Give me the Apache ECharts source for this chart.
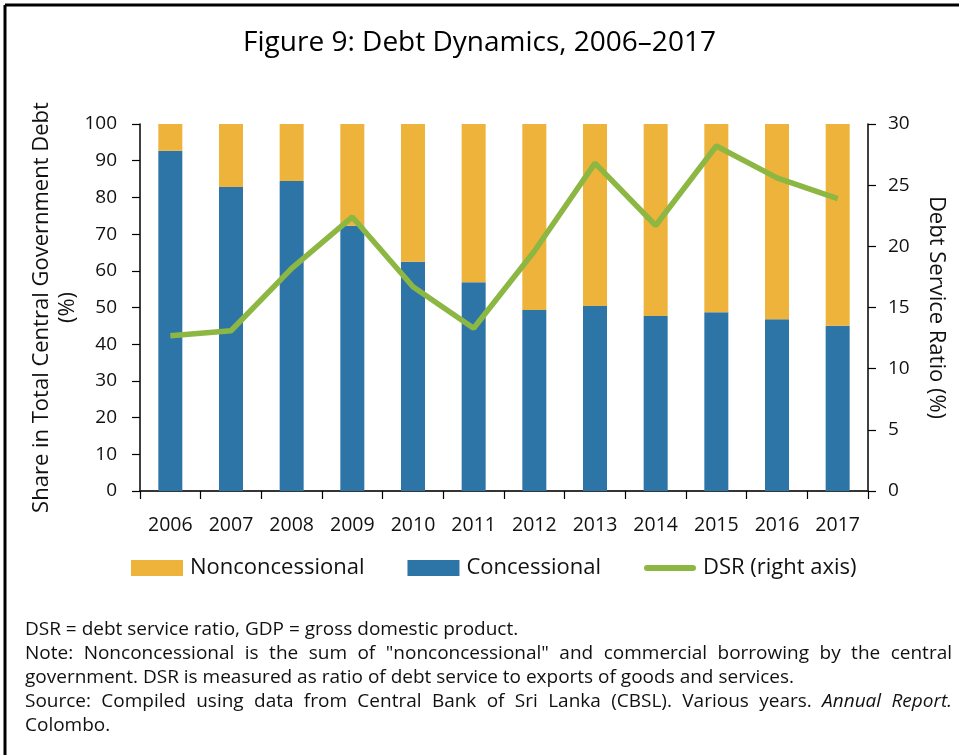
<!DOCTYPE html>
<html>
<head>
<meta charset="utf-8">
<script src="https://cdn.jsdelivr.net/npm/echarts@6/dist/echarts.min.js"></script>
<style>html,body{margin:0;padding:0;background:#fff}#c{width:959px;height:755px}</style>
</head>
<body>
<div id="c"></div>
<script>
var years = ['2006','2007','2008','2009','2010','2011','2012','2013','2014','2015','2016','2017'];
var concessional = [92.7, 82.8, 84.5, 72.3, 62.5, 56.9, 49.3, 50.4, 47.7, 48.7, 46.8, 45.0];
var nonconcessional = [7.3, 17.2, 15.5, 27.7, 37.5, 43.1, 50.7, 49.6, 52.3, 51.3, 53.2, 55.0];
var dsr = [12.7, 13.1, 18.2, 22.4, 16.7, 13.3, 19.6, 26.8, 21.7, 28.2, 25.6, 23.9];
var leftTicks = [0, 100, 10];
var rightTicks = [0, 30, 5];

var FONT = '"Open Sans", Lato, sans-serif';
var chart = echarts.init(document.getElementById('c'), null, {renderer: 'canvas'});

var noteFont = 19;
var ctx = document.createElement('canvas').getContext('2d');
function measure(t, italic) {
  ctx.font = (italic ? 'italic ' : '') + noteFont + 'px ' + FONT;
  return ctx.measureText(t).width;
}
var graphics = [
  {type: 'line', shape: {x1: 5, y1: 5, x2: 959, y2: 5}, style: {stroke: '#000', lineWidth: 3}},
  {type: 'line', shape: {x1: 5, y1: 5, x2: 5, y2: 755}, style: {stroke: '#000', lineWidth: 3}}
];
function textLine(words, x0, x1, y, justify) {
  var widths = words.map(function (w) { return measure(w.t, w.i); });
  var total = widths.reduce(function (a, b) { return a + b; }, 0);
  var sp = measure(' ', false);
  var gap = justify && words.length > 1 ? (x1 - x0 - total) / (words.length - 1) : sp;
  var x = x0;
  words.forEach(function (w, k) {
    graphics.push({type: 'text', left: x, top: y, style: {text: w.t, font: (w.i ? 'italic ' : '') + noteFont + 'px ' + FONT, fill: '#111'}});
    x += widths[k] + gap;
  });
}
function words(s, italic) { return s.split(' ').map(function (t) { return {t: t, i: !!italic}; }); }
function drawNotes() {
  textLine(words('DSR = debt service ratio, GDP = gross domestic product.'), 25, 952, 620, false);
  textLine(words('Note: Nonconcessional is the sum of "nonconcessional" and commercial borrowing by the central'), 25, 952, 644, true);
  textLine(words('government. DSR is measured as ratio of debt service to exports of goods and services.'), 25, 952, 668, false);
  textLine(words('Source: Compiled using data from Central Bank of Sri Lanka (CBSL). Various years.').concat(words('Annual Report.', true)), 25, 952, 692, true);
  textLine(words('Colombo.'), 25, 952, 716, false);
}

function build() {
  drawNotes();
  var option = {
    backgroundColor: '#fff',
    animation: false,
    title: {
      text: 'Figure 9: Debt Dynamics, 2006\u20132017',
      left: 'center', top: 24,
      textStyle: {fontFamily: FONT, fontSize: 28, fontWeight: 'normal', color: '#000'}
    },
    grid: {left: 140, right: 91, top: 124, bottom: 264},
    legend: {
      left: 131, top: 557, padding: 0,
      itemWidth: 52, itemHeight: 16, itemGap: 43,
      symbolKeepAspect: true,
      textStyle: {fontFamily: FONT, fontSize: 22, color: '#111', padding: [0, 0, 0, 2]},
      data: [
        {name: 'Nonconcessional', icon: 'rect'},
        {name: 'Concessional', icon: 'rect'},
        {name: 'DSR (right axis)', icon: 'path://M3,0 L49,0 A3,3 0 0 1 49,6 L3,6 A3,3 0 0 1 3,0 Z'}
      ]
    },
    xAxis: [{
      type: 'category', data: years, position: 'bottom',
      axisLine: {lineStyle: {color: '#000', width: 1.5}},
      axisTick: {show: true, length: 8, alignWithLabel: false, lineStyle: {color: '#000', width: 1.2}},
      axisLabel: {fontFamily: FONT, fontSize: 19.5, color: '#111', margin: 24}
    }, {
      type: 'category', data: years, position: 'top',
      axisLine: {lineStyle: {color: '#333', width: 1.5}},
      axisTick: {show: false}, axisLabel: {show: false}
    }],
    yAxis: [{
      type: 'value', min: leftTicks[0], max: leftTicks[1], interval: leftTicks[2],
      position: 'left',
      name: 'Share in Total Central Government Debt\n(%)',
      nameLocation: 'middle', nameGap: 59, nameRotate: 90, nameMoveOverlap: false,
      nameTextStyle: {fontFamily: FONT, fontSize: 22, color: '#111', lineHeight: 26},
      axisLine: {show: true, lineStyle: {color: '#000', width: 1.5}},
      axisTick: {show: true, length: 8, lineStyle: {color: '#000', width: 1.2}},
      axisLabel: {fontFamily: FONT, fontSize: 19, color: '#111', margin: 23},
      splitLine: {show: false}
    }, {
      type: 'value', min: rightTicks[0], max: rightTicks[1], interval: rightTicks[2],
      position: 'right',
      name: 'Debt Service Ratio (%)',
      nameLocation: 'middle', nameGap: 57, nameRotate: -90, nameMoveOverlap: false,
      nameTextStyle: {fontFamily: FONT, fontSize: 22, color: '#111'},
      axisLine: {show: true, lineStyle: {color: '#000', width: 1.5}},
      axisTick: {show: true, length: 8, lineStyle: {color: '#000', width: 1.2}},
      axisLabel: {fontFamily: FONT, fontSize: 19, color: '#111', margin: 20},
      splitLine: {show: false}
    }],
    series: [{
      name: 'Concessional', type: 'bar', stack: 'share', data: concessional,
      barWidth: 24, itemStyle: {color: '#2E75A7'}
    }, {
      name: 'Nonconcessional', type: 'bar', stack: 'share', data: nonconcessional,
      barWidth: 24, itemStyle: {color: '#EDB33A'}
    }, {
      name: 'DSR (right axis)', type: 'line', yAxisIndex: 1, data: dsr,
      showSymbol: false, symbol: 'none',
      lineStyle: {color: '#8DB743', width: 5.5}, itemStyle: {color: '#8DB743'}
    }],
    graphic: graphics
  };
  chart.setOption(option);
}
if (document.fonts && document.fonts.load) {
  Promise.all([
    document.fonts.load('18px "Open Sans"'),
    document.fonts.load('italic 18px "Open Sans"')
  ]).then(build, build);
} else { build(); }
</script>
</body>
</html>
